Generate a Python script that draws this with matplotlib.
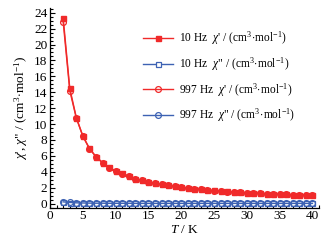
import matplotlib
matplotlib.use("Agg")
import matplotlib.pyplot as plt
from matplotlib.ticker import MultipleLocator

plt.rcParams['font.family'] = ['Liberation Serif', 'DejaVu Serif']
plt.rcParams['mathtext.fontset'] = 'custom'
plt.rcParams['mathtext.rm'] = 'Liberation Serif'
plt.rcParams['mathtext.it'] = 'Liberation Serif:italic'
plt.rcParams['mathtext.bf'] = 'Liberation Serif:bold'

T = [2, 3, 4, 5, 6, 7, 8, 9, 10, 11, 12, 13, 14, 15, 16, 17, 18, 19, 20,
     21, 22, 23, 24, 25, 26, 27, 28, 29, 30, 31, 32, 33, 34, 35, 36, 37, 38, 39, 40]
chi1_10 = [23.3, 14.5, 10.8, 8.5, 6.95, 5.9, 5.15, 4.55, 4.1, 3.8, 3.45, 3.15, 2.92,
           2.74, 2.58, 2.42, 2.29, 2.17, 2.06, 1.96, 1.87, 1.79, 1.72, 1.65, 1.59,
           1.53, 1.48, 1.43, 1.38, 1.34, 1.30, 1.26, 1.23, 1.19, 1.16, 1.13, 1.10,
           1.07, 1.04]
chi2_10 = [0.18, 0.12, 0.08, 0.06, 0.05, 0.05, 0.04, 0.04, 0.04, 0.03, 0.03, 0.03, 0.03,
           0.03, 0.03, 0.03, 0.03, 0.03, 0.03, 0.03, 0.03, 0.03, 0.03, 0.03, 0.03,
           0.03, 0.03, 0.03, 0.03, 0.03, 0.03, 0.03, 0.03, 0.03, 0.03, 0.03, 0.03,
           0.03, 0.03]
chi1_997 = [22.8, 14.2, 10.75, 8.45, 6.9, 5.88, 5.12, 4.52, 4.08, 3.78, 3.43, 3.13, 2.91,
            2.73, 2.57, 2.41, 2.28, 2.16, 2.05, 1.95, 1.86, 1.78, 1.71, 1.64, 1.58,
            1.52, 1.47, 1.42, 1.38, 1.33, 1.29, 1.26, 1.22, 1.19, 1.16, 1.13, 1.10,
            1.07, 1.04]
chi2_997 = [0.22, 0.15, 0.10, 0.08, 0.06, 0.05, 0.05, 0.04, 0.04, 0.04, 0.04, 0.03, 0.03,
            0.03, 0.03, 0.03, 0.03, 0.03, 0.03, 0.03, 0.03, 0.03, 0.03, 0.03, 0.03,
            0.03, 0.03, 0.03, 0.03, 0.03, 0.03, 0.03, 0.03, 0.03, 0.03, 0.03, 0.03,
            0.03, 0.03]

unit = r" / (cm$^{3}\!\cdot\!$mol$^{-1}$)"
labels = [r"10 Hz  $\chi$'" + unit,
          r'10 Hz  $\chi$"' + unit,
          r"997 Hz  $\chi$'" + unit,
          r'997 Hz  $\chi$"' + unit]

red = '#f02a2a'
blue = '#3d62b3'

fig = plt.figure(figsize=(3.34, 2.40), dpi=100)
ax = fig.add_axes([0.150, 0.135, 0.805, 0.832])

ax.plot(T, chi1_10, '-s', color=red, ms=3.6, mfc=red, mec=red, lw=1.0, label=labels[0], zorder=3)
ax.plot(T, chi2_10, '-s', color=blue, ms=3.6, mfc='white', mec=blue, mew=0.9, lw=1.0, label=labels[1], zorder=3)
ax.plot(T, chi1_997, '-o', color=red, ms=4.2, mfc='none', mec=red, mew=0.9, lw=1.0, label=labels[2], zorder=4)
ax.plot(T, chi2_997, '-o', color=blue, ms=4.2, mfc='none', mec=blue, mew=0.9, lw=1.0, label=labels[3], zorder=4)

ax.set_xlim(0, 41)
ax.set_ylim(-0.5, 24.6)
ax.xaxis.set_major_locator(MultipleLocator(5))
ax.xaxis.set_minor_locator(MultipleLocator(1))
ax.yaxis.set_major_locator(MultipleLocator(2))
ax.yaxis.set_minor_locator(MultipleLocator(0.5))
ax.tick_params(which='both', direction='in', labelsize=9.5, pad=2, width=0.8)
ax.tick_params(which='major', length=3.5)
ax.tick_params(which='minor', length=2)
for s in ['top', 'right']:
    ax.spines[s].set_visible(False)
for s in ['left', 'bottom']:
    ax.spines[s].set_linewidth(0.9)

ax.set_xlabel(r"$T$ / K", fontsize=9.5, labelpad=1)
ax.set_ylabel(r"$\chi$', $\chi$" + '"' + unit, fontsize=9.5, labelpad=3)

ax.legend(loc='upper left', bbox_to_anchor=(0.345, 0.89), frameon=False, fontsize=8.3,
          handlelength=2.6, handletextpad=0.5, labelspacing=0.7, borderpad=0,
          borderaxespad=0)

fig.savefig('out.png', dpi=100)
